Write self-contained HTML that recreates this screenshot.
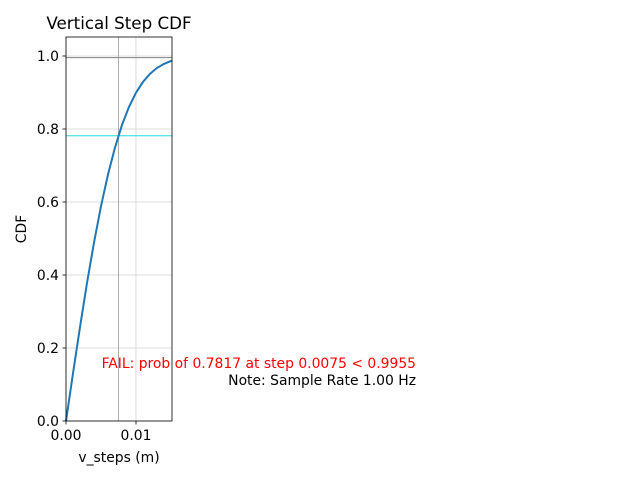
<!DOCTYPE html>
<html><head><meta charset="utf-8"><style>
html,body{margin:0;padding:0;background:#fff;}
svg{display:block;font-family:"DejaVu Sans","Liberation Sans",sans-serif;}
</style></head><body>
<svg width="640" height="480" viewBox="0 0 640 480" xmlns="http://www.w3.org/2000/svg">
<rect width="640" height="480" fill="#fff"/>
<g stroke="#d3d3d3" stroke-width="0.8">
<line x1="66" y1="421" x2="172" y2="421"/>
<line x1="66" y1="348" x2="172" y2="348"/>
<line x1="66" y1="275" x2="172" y2="275"/>
<line x1="66" y1="202" x2="172" y2="202"/>
<line x1="66" y1="129" x2="172" y2="129"/>
<line x1="66" y1="56" x2="172" y2="56"/>
<line x1="66" y1="37" x2="66" y2="421"/>
<line x1="136" y1="37" x2="136" y2="421"/>
</g>
<line x1="66" y1="57.6" x2="172" y2="57.6" stroke="#808080" stroke-width="1"/>
<line x1="66" y1="135.7" x2="172" y2="135.7" stroke="#22dddd" stroke-width="1"/>
<line x1="118.5" y1="37" x2="118.5" y2="421" stroke="#999" stroke-width="0.8"/>
<polyline fill="none" stroke="#1f77b4" stroke-width="2" points="66,421 73,373.4 80,327.1 87,283 94,242.6 101,206.2 108,174.5 115,147.5 122,124.9 129,106.9 136,92.7 143,81.9 150,73.8 157,67.9 164,63.9 171,61 172,60.7"/>
<rect x="66" y="37" width="106" height="384" fill="none" stroke="#000" stroke-width="0.8"/>
<g stroke="#000" stroke-width="0.8">
<line x1="66" y1="421" x2="66" y2="424.5"/>
<line x1="136" y1="421" x2="136" y2="424.5"/>
<line x1="62.5" y1="421" x2="66" y2="421"/>
<line x1="62.5" y1="348" x2="66" y2="348"/>
<line x1="62.5" y1="275" x2="66" y2="275"/>
<line x1="62.5" y1="202" x2="66" y2="202"/>
<line x1="62.5" y1="129" x2="66" y2="129"/>
<line x1="62.5" y1="56" x2="66" y2="56"/>
</g>
<g font-size="13.9" fill="#000" text-anchor="end">
<text x="59" y="426">0.0</text>
<text x="59" y="353">0.2</text>
<text x="59" y="280">0.4</text>
<text x="59" y="207">0.6</text>
<text x="59" y="134">0.8</text>
<text x="59" y="61">1.0</text>
</g>
<g font-size="13.9" fill="#000" text-anchor="middle">
<text x="66" y="440">0.00</text>
<text x="136" y="440">0.01</text>
<text x="119" y="462">v_steps (m)</text>
</g>
<text x="26" y="229" font-size="13.9" text-anchor="middle" transform="rotate(-90 26 229)">CDF</text>
<text x="119" y="29" font-size="16.7" text-anchor="middle">Vertical Step CDF</text>
<text x="416" y="368" font-size="13.9" fill="#ff0000" text-anchor="end">FAIL: prob of 0.7817 at step 0.0075 &lt; 0.9955</text>
<text x="416" y="385" font-size="13.9" fill="#000" text-anchor="end">Note: Sample Rate 1.00 Hz</text>
</svg>
</body></html>
